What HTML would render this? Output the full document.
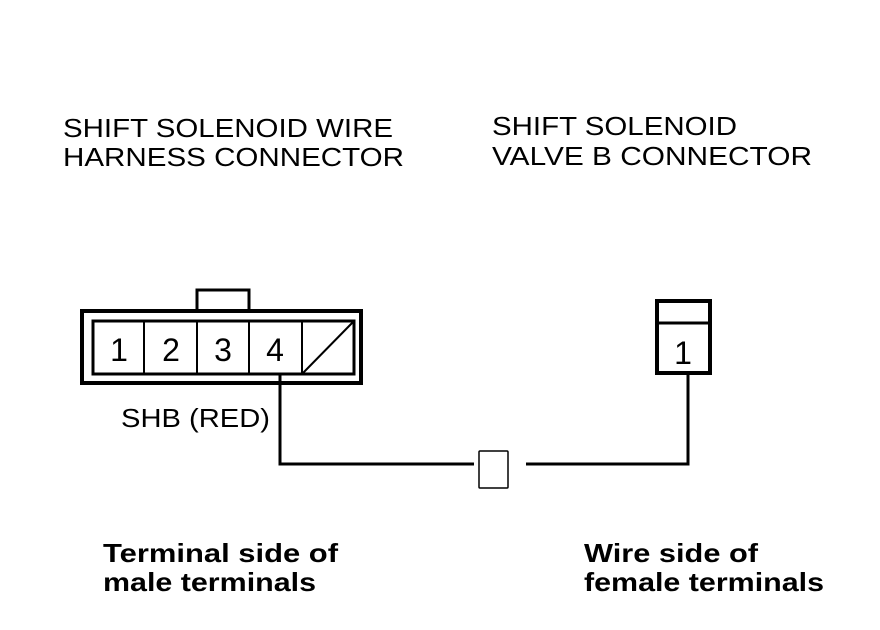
<!DOCTYPE html>
<html><head><style>
body{margin:0;background:#fff;}
svg{display:block}
text{font-family:"Liberation Sans",sans-serif;fill:#000}
</style></head><body>
<svg width="880" height="630" viewBox="0 0 880 630">
<g font-size="26" lengthAdjust="spacingAndGlyphs">
<text x="63" y="137" textLength="330" lengthAdjust="spacingAndGlyphs">SHIFT SOLENOID WIRE</text>
<text x="63" y="166" textLength="341" lengthAdjust="spacingAndGlyphs">HARNESS CONNECTOR</text>
<text x="492" y="135" textLength="245" lengthAdjust="spacingAndGlyphs">SHIFT SOLENOID</text>
<text x="492" y="165" textLength="320" lengthAdjust="spacingAndGlyphs">VALVE B CONNECTOR</text>
</g>
<g font-size="26" font-weight="bold">
<text x="103" y="562" textLength="235" lengthAdjust="spacingAndGlyphs">Terminal side of</text>
<text x="103" y="591" textLength="213" lengthAdjust="spacingAndGlyphs">male terminals</text>
<text x="584" y="562" textLength="174" lengthAdjust="spacingAndGlyphs">Wire side of</text>
<text x="584" y="591" textLength="240" lengthAdjust="spacingAndGlyphs">female terminals</text>
</g>
<g fill="none" stroke="#000">
<rect x="197" y="290" width="52" height="21" stroke-width="3"/>
<rect x="82" y="311" width="279" height="72" fill="#fff" stroke-width="4"/>
<rect x="93" y="321" width="261" height="53" stroke-width="3"/>
<path d="M144 321V374M197 321V374M249 321V374M302 321V374" stroke-width="2"/>
<path d="M302 374L354 321" stroke-width="2"/>
<path d="M280 374V464H474M526 464H688V374" stroke-width="3"/>
<rect x="479" y="451" width="29" height="37" stroke-width="1.5" rx="1"/>
<rect x="657" y="301" width="53" height="72" stroke-width="4"/>
<path d="M657 323H710" stroke-width="3"/>
</g>
<g font-size="32" text-anchor="middle">
<text x="119" y="361">1</text>
<text x="171" y="361">2</text>
<text x="223" y="361">3</text>
<text x="275" y="361">4</text>
<text x="683" y="364">1</text>
</g>
<text x="121" y="427" font-size="26" textLength="149" lengthAdjust="spacingAndGlyphs">SHB (RED)</text>
</svg>
</body></html>
